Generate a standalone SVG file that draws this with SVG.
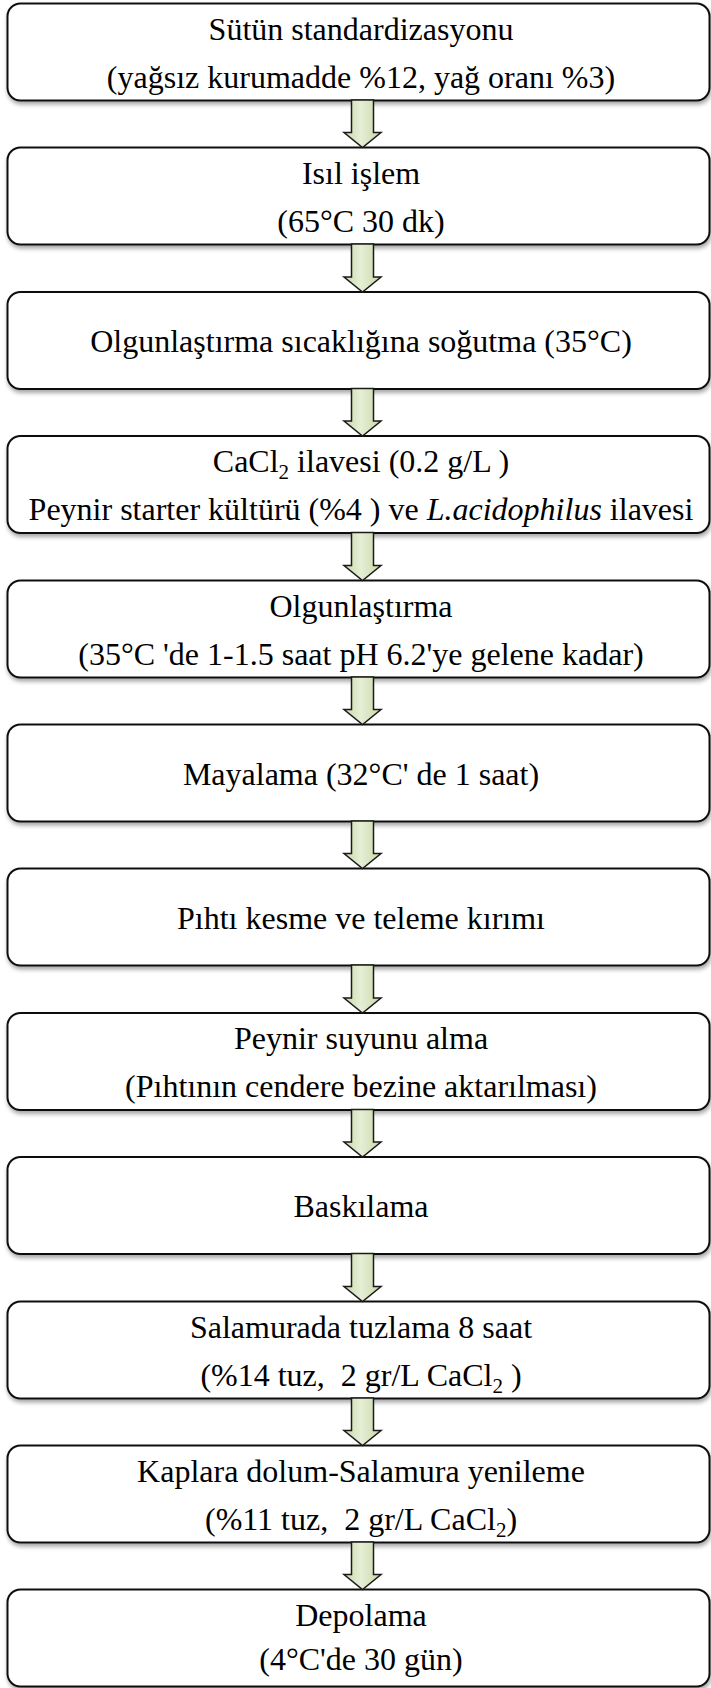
<svg xmlns="http://www.w3.org/2000/svg" width="711" height="1688" viewBox="0 0 711 1688">
<style>
.box{fill:#ffffff;stroke:#111111;stroke-width:2;filter:url(#sh)}
.t{font-family:"Liberation Serif","Times New Roman",serif;font-size:32px;fill:#000;text-anchor:middle}
.arr{fill:url(#g);stroke:#1a1a1a;stroke-width:1.5;stroke-linejoin:miter}
</style>
<defs>
<filter id="sh" x="-5%" y="-20%" width="110%" height="150%">
<feDropShadow dx="1" dy="3" stdDeviation="2" flood-color="#000" flood-opacity="0.35"/>
</filter>
<linearGradient id="g" x1="0" y1="0" x2="1" y2="0">
<stop offset="0" stop-color="#c8d8a6"/>
<stop offset="0.45" stop-color="#e6eed6"/>
<stop offset="1" stop-color="#c8d8a6"/>
</linearGradient>
</defs>
<rect width="711" height="1688" fill="#ffffff"/>
<g id="n1"><rect class="box" x="7.5" y="3.5" width="702" height="97" rx="13"/>
<text class="t" x="361" y="39.5">Sütün standardizasyonu</text>
<text class="t" x="361" y="87.5">(yağsız kurumadde %12, yağ oranı %3)</text></g>
<g id="n2"><rect class="box" x="7.5" y="147.5" width="702" height="97" rx="13"/>
<text class="t" x="361" y="183.5">Isıl işlem</text>
<text class="t" x="361" y="231.5">(65°C 30 dk)</text></g>
<g id="n3"><rect class="box" x="7.5" y="292" width="702" height="97" rx="13"/>
<text class="t" x="361" y="352">Olgunlaştırma sıcaklığına soğutma (35°C)</text></g>
<g id="n4"><rect class="box" x="7.5" y="436" width="702" height="97" rx="13"/>
<text class="t" x="361" y="472">CaCl<tspan dy="7" font-size="21">2</tspan><tspan dy="-7"> ilavesi (0.2 g/L )</tspan></text>
<text class="t" x="361" y="520">Peynir starter kültürü (%4 ) ve <tspan font-style="italic">L.acidophilus</tspan> ilavesi</text></g>
<g id="n5"><rect class="box" x="7.5" y="580.5" width="702" height="97" rx="13"/>
<text class="t" x="361" y="616.5">Olgunlaştırma</text>
<text class="t" x="361" y="664.5">(35°C 'de 1-1.5 saat pH 6.2'ye gelene kadar)</text></g>
<g id="n6"><rect class="box" x="7.5" y="724.5" width="702" height="97" rx="13"/>
<text class="t" x="361" y="784.5">Mayalama (32°C' de 1 saat)</text></g>
<g id="n7"><rect class="box" x="7.5" y="868.5" width="702" height="97" rx="13"/>
<text class="t" x="361" y="928.5">Pıhtı kesme ve teleme kırımı</text></g>
<g id="n8"><rect class="box" x="7.5" y="1013" width="702" height="97" rx="13"/>
<text class="t" x="361" y="1049">Peynir suyunu alma</text>
<text class="t" x="361" y="1097">(Pıhtının cendere bezine aktarılması)</text></g>
<g id="n9"><rect class="box" x="7.5" y="1157" width="702" height="97" rx="13"/>
<text class="t" x="361" y="1217">Baskılama</text></g>
<g id="n10"><rect class="box" x="7.5" y="1301.5" width="702" height="97" rx="13"/>
<text class="t" x="361" y="1337.5">Salamurada tuzlama 8 saat</text>
<text class="t" x="361" y="1385.5">(%14 tuz,&#160; 2 gr/L CaCl<tspan dy="7" font-size="21">2</tspan><tspan dy="-7"> )</tspan></text></g>
<g id="n11"><rect class="box" x="7.5" y="1445.5" width="702" height="97" rx="13"/>
<text class="t" x="361" y="1481.5">Kaplara dolum-Salamura yenileme</text>
<text class="t" x="361" y="1529.5">(%11 tuz,&#160; 2 gr/L CaCl<tspan dy="7" font-size="21">2</tspan><tspan dy="-7">)</tspan></text></g>
<g id="n12"><rect class="box" x="7.5" y="1589.5" width="702" height="97" rx="13"/>
<text class="t" x="361" y="1625.5">Depolama</text>
<text class="t" x="361" y="1670">(4°C'de 30 gün)</text></g>
<g id="connectors">
<path class="arr" d="M351.5,100 H373.5 V132.5 H381 L362.5,147.5 L344,132.5 H351.5 Z"/>
<path class="arr" d="M351.5,244 H373.5 V277 H381 L362.5,292 L344,277 H351.5 Z"/>
<path class="arr" d="M351.5,388.5 H373.5 V421 H381 L362.5,436 L344,421 H351.5 Z"/>
<path class="arr" d="M351.5,532.5 H373.5 V565.5 H381 L362.5,580.5 L344,565.5 H351.5 Z"/>
<path class="arr" d="M351.5,677 H373.5 V709.5 H381 L362.5,724.5 L344,709.5 H351.5 Z"/>
<path class="arr" d="M351.5,821 H373.5 V853.5 H381 L362.5,868.5 L344,853.5 H351.5 Z"/>
<path class="arr" d="M351.5,965 H373.5 V998 H381 L362.5,1013 L344,998 H351.5 Z"/>
<path class="arr" d="M351.5,1109.5 H373.5 V1142 H381 L362.5,1157 L344,1142 H351.5 Z"/>
<path class="arr" d="M351.5,1253.5 H373.5 V1286.5 H381 L362.5,1301.5 L344,1286.5 H351.5 Z"/>
<path class="arr" d="M351.5,1398 H373.5 V1430.5 H381 L362.5,1445.5 L344,1430.5 H351.5 Z"/>
<path class="arr" d="M351.5,1542 H373.5 V1574.5 H381 L362.5,1589.5 L344,1574.5 H351.5 Z"/>
</g>
</svg>
